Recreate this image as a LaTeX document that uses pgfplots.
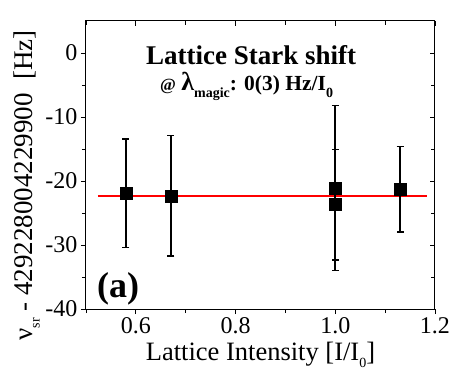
\documentclass[border=0pt]{standalone}
\usepackage{fontspec}
\setmainfont{Liberation Serif}
\usepackage{pgfplots}
\pgfplotsset{compat=1.18}

\newcommand{\sub}[2][-0.45ex]{\raisebox{#1}{\fontsize{14}{14}\selectfont #2}}

\begin{document}
\begin{tikzpicture}
\path[use as bounding box] (-86pt,-69pt) rectangle (367pt,309pt);
\pgfplotsset{
  frame/.style={
    scale only axis, width=349pt, height=288pt,
    xmin=0.5, xmax=1.2, ymin=-40, ymax=5,
    at={(0,0)}, anchor=south west,
    xtick={0.6,0.8,1.0,1.2}, minor xtick={0.5,0.7,0.9,1.1},
    ytick={-40,-30,-20,-10,0}, minor ytick={-35,-25,-15,-5},
    major tick length=5pt, minor tick length=4pt,
    every tick/.style={black, line width=0.8pt},
    axis line style={black, line width=1pt},
  }
}
% inward ticks on the top and right edges
\begin{axis}[frame, xtick pos=right, ytick pos=right, tick align=inside,
  xticklabels={}, yticklabels={}]
\end{axis}
\begin{axis}[frame, xtick pos=left, ytick pos=left, tick align=outside,
  xticklabels={0.6,0.8,1.0,1.2},
  yticklabels={-40,-30,-20,-10,0},
  tick label style={font=\fontsize{24}{24}\selectfont},
  xticklabel style={yshift=0pt},
  yticklabel style={xshift=0pt},
  xlabel={Lattice Intensity [I/I\sub[-0.55ex]{0}]},
  xlabel style={font=\fontsize{26.5}{26.5}\selectfont, at={(axis description cs:0.5,-0.16)}, anchor=center},
  ylabel={ν\sub[-0.6ex]{sr} - 429228004229900~~[Hz]},
  ylabel style={font=\fontsize{27}{27}\selectfont, at={(axis description cs:-0.17,0.43)}, anchor=center},
  clip=false]

% fitted shift
\addplot[red, line width=2pt] coordinates {(0.524,-22.4) (1.183,-22.4)};

% measured shifts
\addplot[black, only marks, mark=square*, mark size=6pt,
  error bars/.cd, y dir=both, y explicit,
  error bar style={line width=1.6pt},
  error mark options={rotate=90, mark size=3.5pt, line width=1.6pt}]
  coordinates {
    (0.58,-21.9) +- (0,8.5)
    (0.67,-22.3) +- (0,9.4)
    (1.00,-21.1) +- (0,12.9)
    (1.00,-23.7) +- (0,8.6)
    (1.13,-21.3) +- (0,6.7)
  };

\node[font=\bfseries\fontsize{27}{27}\selectfont] at (rel axis cs:0.473,0.882) {Lattice Stark shift};
\node[anchor=base west, font=\bfseries\fontsize{21.5}{21.5}\selectfont, inner sep=0pt]
  at (rel axis cs:0.212,0.757)
  {{\fontsize{17}{17}\selectfont @} {\fontsize{26}{26}\selectfont λ}\sub[-0.7ex]{magic}: 0(3) Hz/I\sub[-0.7ex]{0}};
\node[font=\bfseries\fontsize{36}{36}\selectfont] at (rel axis cs:0.092,0.07) {(a)};
\end{axis}
\end{tikzpicture}
\end{document}
